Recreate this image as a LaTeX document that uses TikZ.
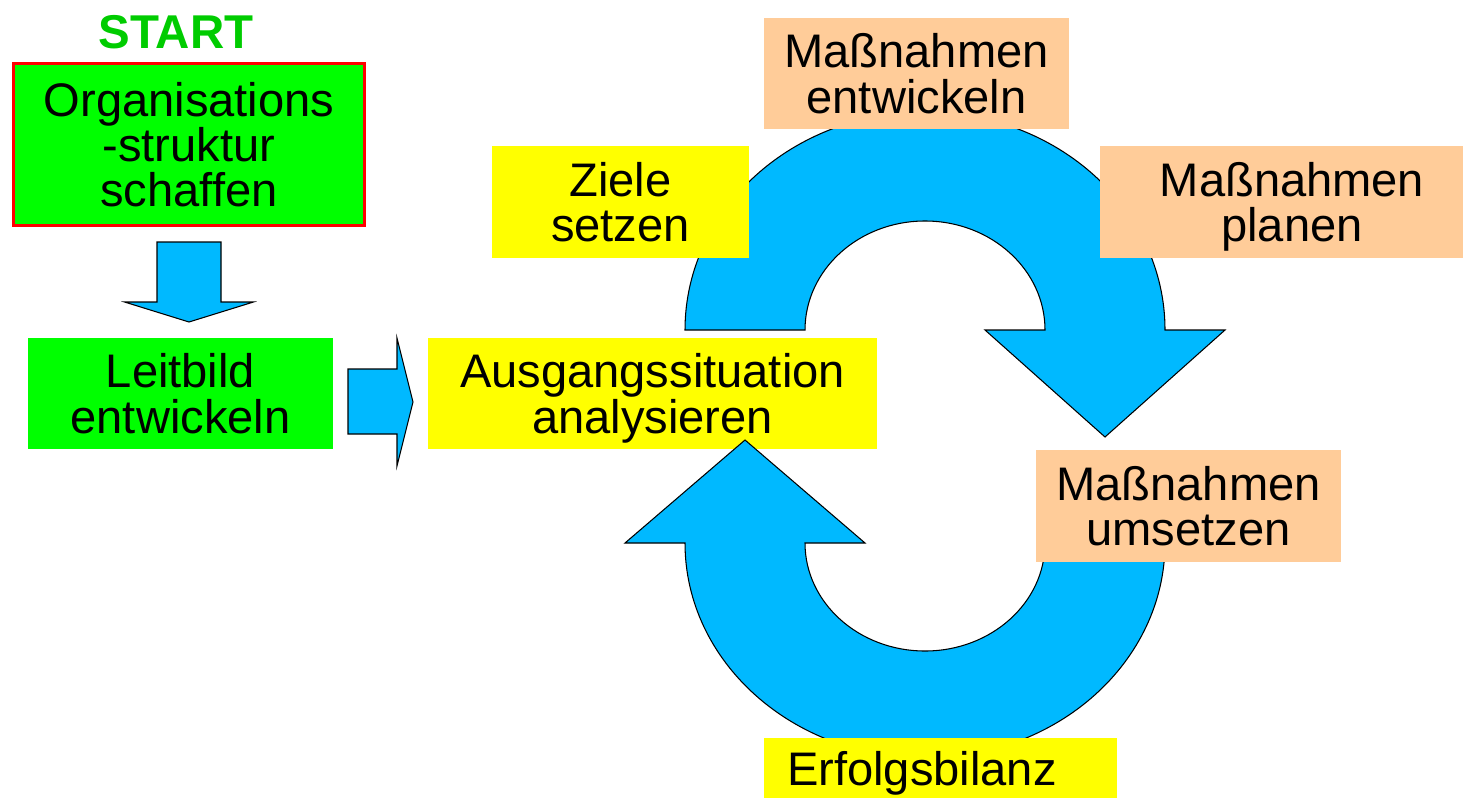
\documentclass[tikz,border=0pt]{standalone}
\usepackage{fontspec}
\setmainfont{Liberation Sans}
\usetikzlibrary{calc}

\definecolor{lgreen}{RGB}{0,255,0}
\definecolor{startgreen}{RGB}{0,204,0}
\definecolor{lyellow}{RGB}{255,255,0}
\definecolor{peach}{RGB}{255,204,153}
\definecolor{arrowblue}{RGB}{0,185,255}

\begin{document}
\begin{tikzpicture}[
  x=0.2mm, y={(0,-0.2mm)},
  font=\fontsize{26.8pt}{25.8pt}\selectfont,
  bx/.style={inner sep=0pt, outer sep=0pt, align=center, text depth=0pt,
             minimum width=61mm, minimum height=22.2mm},
  gbox/.style={bx, fill=lgreen},
  ybox/.style={bx, fill=lyellow},
  pbox/.style={bx, fill=peach},
  blk/.style={fill=arrowblue, draw=black, line width=0.6pt}
]
\useasboundingbox (0,0) rectangle (1463,798);

\node[font=\fontsize{27pt}{27pt}\selectfont\bfseries, text=startgreen, anchor=base] (start) at (176,49) {START};
\node[gbox, draw=red, line width=1.7pt, minimum width=70.2mm, minimum height=32.4mm] (org) at (189,144.5)
  {Organisations\\-struktur\\schaffen};
\node[gbox] (leit) at (180.5,393.5) {Leitbild\\entwickeln};
\node[ybox, minimum width=89.8mm] (ausg) at (652.5,393.5) {Ausgangssituation\\analysieren};

% block arrows
\draw[blk, shift={(org.south)}] (-32,16.5) -- (32,16.5) -- (32,76.5) -- (64.5,76.5) -- (0,96.5)
  -- (-64.5,76.5) -- (-32,76.5) -- cycle;
\draw[blk, shift={(leit.east)}] (15,-24.5) -- (64,-24.5) -- (64,-55.5) -- (80,8.5) -- (64,72.5)
  -- (64,40.5) -- (15,40.5) -- cycle;

% cycle
\draw[blk] (685,330) arc[start angle=180, end angle=360, x radius=240, y radius=218]
  -- (1225,330) -- (1105,437) -- (985,330) -- (1045,330)
  arc[start angle=0, end angle=-180, x radius=120, y radius=109] -- cycle;
\draw[blk] (625,543) -- (745,440) -- (865,543) -- (805,543)
  arc[start angle=180, end angle=0, x radius=120, y radius=108] -- (1165,543)
  arc[start angle=0, end angle=180, x radius=240, y radius=215] -- cycle;

\node[ybox, minimum width=51.4mm, minimum height=22.4mm] (ziele) at (620.5,202) {Ziele\\setzen};
\node[pbox] (entw) at (916.5,73.5) {Maßnahmen\\entwickeln};
\node[pbox, minimum width=72.6mm, minimum height=22.4mm] (plan) at (1281.5,202) {};
\node[bx, minimum width=0pt, minimum height=0pt] (plantxt) at ([xshift=2.1mm]plan.center) {Maßnahmen\\planen};
\node[pbox, minimum height=22.4mm] (ums) at (1188.5,506) {Maßnahmen\\umsetzen};
\node[ybox, minimum width=70.6mm, minimum height=12mm, text width=61.4mm, inner xsep=4.6mm, align=left]
  (erf) at (940.5,768) {Erfolgsbilanz};
\end{tikzpicture}
\end{document}
